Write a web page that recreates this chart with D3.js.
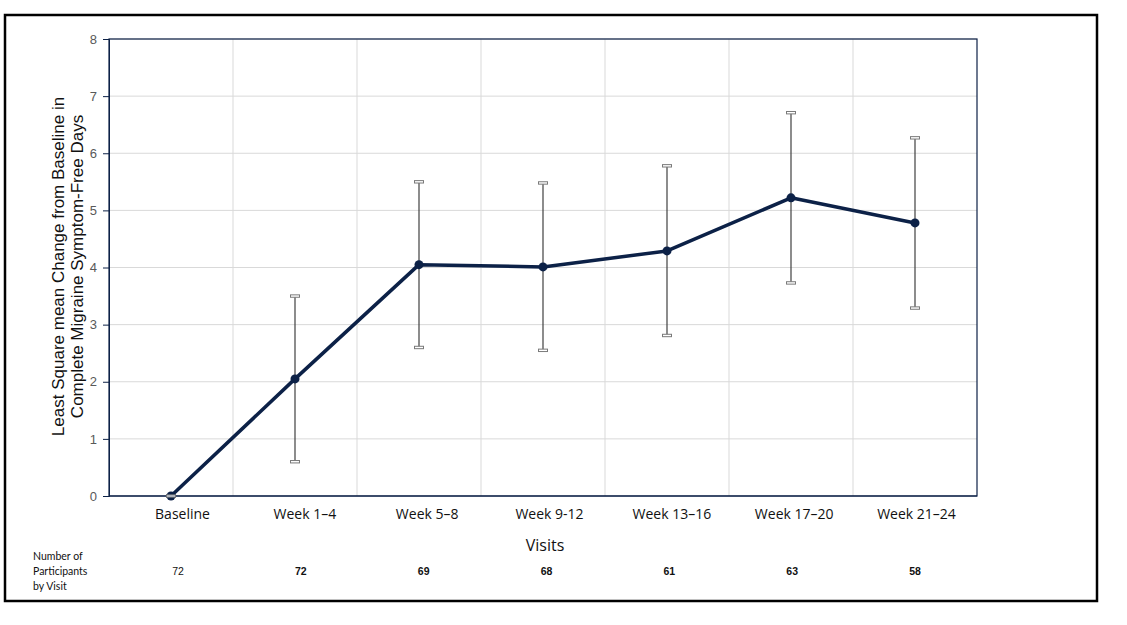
<!DOCTYPE html>
<html><head><meta charset="utf-8">
<script src="https://cdn.jsdelivr.net/npm/d3@7"></script>
<style>body{margin:0;background:#fff;}svg{display:block;font-family:Lato, "Open Sans", sans-serif;}</style>
</head><body>
<svg id="c" width="1127" height="625"></svg>
<script>
const categories = ["Baseline","Week 1\u20134","Week 5\u20138","Week 9-12","Week 13\u201316","Week 17\u201320","Week 21\u201324"];
const lsMean = [0, 2.05, 4.05, 4.01, 4.29, 5.22, 4.78];
const ciUpper = [0, 3.50, 5.50, 5.48, 5.78, 6.71, 6.27];
const ciLower = [0, 0.60, 2.60, 2.55, 2.81, 3.73, 3.29];
const participants = ["72","72","69","68","61","63","58"];
const participantsBold = [false,true,true,true,true,true,true];
const yTicks = [0,1,2,3,4,5,6,7,8];

const svg = d3.select("#c");
const L=109,R=977,T=39,B=496;
const x = d3.scaleBand().domain(categories).range([L,R]);
const xLabel = d3.scalePoint().domain(categories).range([182,916]);
const xCount = d3.scalePoint().domain(categories).range([178,915]);
const y = d3.scaleLinear().domain([0,8]).range([B,T]);
const navy = "#0c2147";

// outer frame
svg.append("rect").attr("x",5).attr("y",15).attr("width",1092).attr("height",586)
  .attr("fill","none").attr("stroke","#000").attr("stroke-width",2.5);

// gridlines
const g = svg.append("g");
g.selectAll(".hg").data(yTicks.filter(d=>d>0)).join("line")
  .attr("x1",L).attr("x2",R).attr("y1",d=>y(d)).attr("y2",d=>y(d))
  .attr("stroke","#d9d9d9").attr("stroke-width",1);
g.selectAll(".vg").data(categories.slice(1)).join("line")
  .attr("x1",d=>x(d)).attr("x2",d=>x(d)).attr("y1",T).attr("y2",B)
  .attr("stroke","#d9d9d9").attr("stroke-width",1);

// plot border
svg.append("rect").attr("x",L).attr("y",T).attr("width",R-L).attr("height",B-T)
  .attr("fill","none").attr("stroke",navy).attr("stroke-width",1.2);

// y axis
const ya = svg.append("g").attr("transform",`translate(${L},0)`)
  .call(d3.axisLeft(y).tickValues(yTicks).tickSize(6).tickPadding(6));
ya.select(".domain").attr("stroke",navy);
ya.selectAll(".tick line").attr("stroke",navy);
ya.selectAll(".tick text").attr("fill","#595959").attr("font-size",13).attr("font-family","Liberation Sans, Arial, sans-serif");

// x axis line
svg.append("line").attr("x1",L).attr("x2",R).attr("y1",B).attr("y2",B).attr("stroke",navy).attr("stroke-width",1.2);
// x labels
const xa = svg.append("g").attr("transform",`translate(0,${B})`)
  .call(d3.axisBottom(xLabel).tickSize(0).tickPadding(13));
xa.select(".domain").remove();
xa.selectAll(".tick text").attr("fill","#111").attr("font-size",14).attr("font-family","Open Sans, sans-serif");

// error bars
const cx = d => x(d)+x.bandwidth()/2;
const eb = svg.append("g");
categories.forEach((c,i)=>{
  eb.append("line").attr("x1",cx(c)).attr("x2",cx(c)).attr("y1",y(ciUpper[i])).attr("y2",y(ciLower[i]))
    .attr("stroke","#404040").attr("stroke-width",1.2);
  [ciUpper[i],ciLower[i]].forEach(v=>{
    eb.append("rect").attr("x",cx(c)-4.5).attr("y",y(v)-1.2).attr("width",9).attr("height",2.4)
      .attr("fill","#fff").attr("stroke","#7a7a7a").attr("stroke-width",1);
  });
});

// line
const pts = categories.map((c,i)=>[cx(c),y(lsMean[i])]);
svg.append("path").attr("d",d3.line()(pts)).attr("fill","none").attr("stroke",navy).attr("stroke-width",3.5).attr("stroke-linejoin","round");
svg.selectAll(".pt").data(pts).join("circle").attr("cx",d=>d[0]).attr("cy",d=>d[1]).attr("r",4.5).attr("fill",navy);
// baseline cap overlay
svg.append("rect").attr("x",cx(categories[0])-4.5).attr("y",y(0)-1.2).attr("width",9).attr("height",2.4)
  .attr("fill","#fff").attr("stroke","#7a7a7a").attr("stroke-width",1).attr("opacity",0.8);

// axis titles
svg.append("text").attr("x",545).attr("y",551).attr("text-anchor","middle")
  .attr("font-size",16).attr("fill","#111").attr("font-family","Open Sans, sans-serif").text("Visits");
const yt = svg.append("text").attr("transform",`translate(0,${(T+B)/2-1}) rotate(-90)`)
  .attr("text-anchor","middle").attr("font-size",17).attr("fill","#111").attr("font-family","Liberation Sans, Arial, sans-serif");
yt.append("tspan").attr("x",0).attr("y",64).text("Least Square mean Change from Baseline in");
yt.append("tspan").attr("x",0).attr("y",83).text("Complete Migraine Symptom-Free Days");

// participants
const pl = svg.append("text").attr("font-size",10.5).attr("fill","#111").attr("font-family","Lato, sans-serif");
["Number of","Participants","by Visit"].forEach((t,i)=>pl.append("tspan").attr("x",33).attr("y",560+i*15).text(t));
svg.selectAll(".np").data(categories).join("text")
  .attr("x",d=>xCount(d)).attr("y",575).attr("text-anchor","middle").attr("font-size",10.5)
  .attr("font-weight",(d,i)=>participantsBold[i]?"bold":"normal").attr("fill","#111")
  .attr("font-family","Liberation Sans, Arial, sans-serif")
  .text((d,i)=>participants[i]);
</script>
</body></html>
